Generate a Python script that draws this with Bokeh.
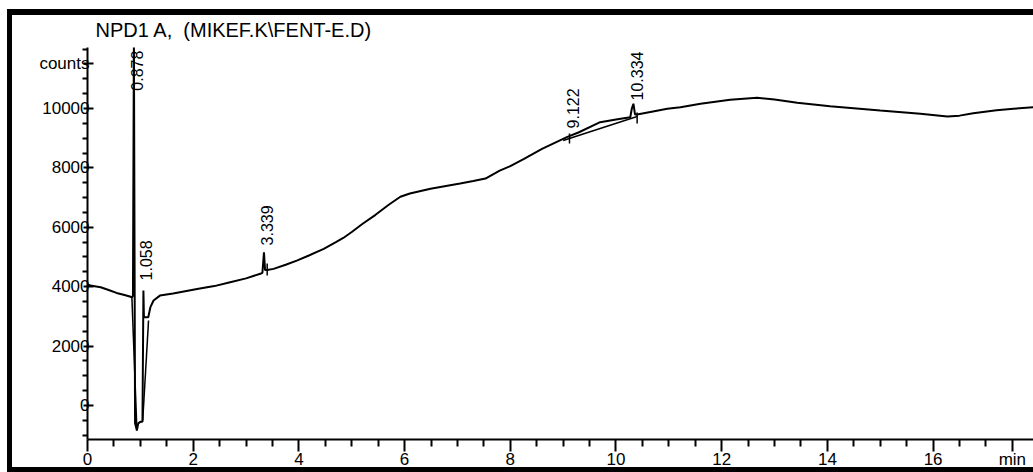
import numpy as np
from bokeh.plotting import figure
from bokeh.models import Range1d, FixedTicker
from bokeh.core.properties import value
from bokeh.embed import file_html
from bokeh.resources import INLINE

# NPD detector signal: retention time (min) vs. counts
time_min = [0.00, 0.05, 0.25, 0.40, 0.55, 0.70, 0.80, 0.84, 0.86, 0.878, 0.90,
            0.935, 0.96, 1.00, 1.04, 1.058, 1.068, 1.15, 1.19, 1.25, 1.37, 1.62,
            2.10, 2.40, 2.70, 3.00, 3.27, 3.31, 3.339, 3.36, 3.40, 3.52, 3.75,
            3.96, 4.20, 4.47, 4.70, 4.84, 5.00, 5.20, 5.45, 5.70, 5.92, 6.10,
            6.49, 7.05, 7.30, 7.53, 7.80, 8.00, 8.26, 8.60, 9.07, 9.30, 9.70,
            10.00, 10.27, 10.30, 10.33, 10.36, 10.40, 10.70, 10.97, 11.22, 11.60,
            12.16, 12.67, 13.00, 13.43, 14.05, 15.00, 15.76, 16.27, 16.50, 16.76,
            17.20, 17.52, 17.90]
counts = [4090, 4040, 3980, 3890, 3790, 3720, 3670, 3640, 3700, 12400, -600,
          -840, -600, -550, -550, 3870, 2970, 2970, 3310, 3535, 3700, 3770,
          3930, 4020, 4150, 4280, 4435, 4470, 5160, 4560, 4560, 4600, 4740,
          4880, 5060, 5275, 5500, 5640, 5840, 6110, 6420, 6760, 7030, 7140,
          7300, 7475, 7560, 7640, 7910, 8060, 8305, 8640, 9034, 9200, 9540,
          9630, 9707, 10000, 10160, 9800, 9800, 9900, 9990, 10044, 10160,
          10293, 10360, 10300, 10192, 10077, 9933, 9822, 9731, 9760, 9842,
          9940, 9990, 10044]

# integration results
peak_rt = [0.878, 1.058, 3.339, 9.122, 10.334]
peak_text = ["0.878", "1.058", "3.339", "9.122", "10.334"]
peak_label_at = [10600, 4210, 5390, 9330, 10270]

# integrator baselines
baseline_t = [[0.84, 0.935], [1.045, 1.155], [9.00, 10.40]]
baseline_v = [[3640, -840], [-500, 2860], [8920, 9730]]

# peak start/end markers
mark_t = [3.40, 9.12, 10.40]
mark_lo = [4380, 8820, 9495]
mark_hi = [4780, 9160, 9865]

# axis ticks and their labels
x_major = [0, 2, 4, 6, 8, 10, 12, 14, 16, 17.5]
x_labels = {17.5: "min"}
x_minor = [0.5, 1, 1.5, 2.5, 3, 3.5, 4.5, 5, 5.5, 6.5, 7, 7.5, 8.5, 9, 9.5,
           10.5, 11, 11.5, 12.5, 13, 13.5, 14.5, 15, 15.5, 16.5, 17]
y_major = [0, 2000, 4000, 6000, 8000, 10000, 11500]
y_labels = {11500: "counts"}
y_minor = [-1000, -500, 500, 1000, 1500, 2500, 3000, 3500, 4500, 5000, 5500,
           6500, 7000, 7500, 8500, 9000, 9500, 10500, 11000, 12000]

FONT = "Liberation Sans"

p = figure(width=1033, height=472,
           x_range=Range1d(0, 17.9), y_range=Range1d(-1145, 12054),
           output_backend="svg", toolbar_location=None,
           min_border_left=87, min_border_right=0,
           min_border_top=47, min_border_bottom=33)
p.background_fill_color = None
p.border_fill_color = None
p.outline_line_color = None
p.grid.visible = False

# heavy page frame around the report
p.styles = {"box-shadow": ("inset 7px 0 0 0 #fff, inset 0 9px 0 0 #fff, "
                           "inset 12px 0 0 0 #000, inset 0 15px 0 0 #000, "
                           "inset 0 -5px 0 0 #000")}

p.title.text = "NPD1 A, \u00a0(MIKEF.K\\FENT-E.D)"
p.title.align = "left"
p.title.offset = 8
p.title.standoff = 14
p.title.text_font = FONT
p.title.text_font_size = "20px"
p.title.text_font_style = "normal"
p.title.text_color = "black"

xa = p.xaxis[0]
xa.ticker = FixedTicker(ticks=x_major, minor_ticks=x_minor)
xa.major_label_overrides = x_labels
xa.axis_line_width = 2
xa.major_tick_line_width = 2
xa.minor_tick_line_width = 2
xa.major_tick_out = 12
xa.major_tick_in = 0
xa.minor_tick_out = 7
xa.minor_tick_in = 0
xa.major_label_standoff = -2
xa.major_label_text_font = FONT
xa.major_label_text_font_size = "17px"
xa.major_label_text_color = "black"

ya = p.yaxis[0]
ya.ticker = FixedTicker(ticks=y_major, minor_ticks=y_minor)
ya.major_label_overrides = y_labels
ya.axis_line_width = 2
ya.major_tick_line_width = 2
ya.minor_tick_line_width = 2
ya.major_tick_out = 4
ya.major_tick_in = 6
ya.minor_tick_out = 5
ya.minor_tick_in = 0
ya.major_label_standoff = -7
ya.major_label_text_font = FONT
ya.major_label_text_font_size = "17px"
ya.major_label_text_color = "black"

# signal trace
p.line(time_min, counts, line_color="black", line_width=2)

# baselines and peak markers
p.multi_line(baseline_t, baseline_v, line_color="black", line_width=1.5)
p.segment(x0=mark_t, y0=mark_lo, x1=mark_t, y1=mark_hi,
          line_color="black", line_width=1.5)

# retention time labels
p.text(x=peak_rt, y=peak_label_at, text=peak_text, angle=np.pi / 2,
       text_align="left", text_baseline="middle", x_offset=3,
       text_font=value(FONT), text_font_size="16px", text_color="black")

open("out.html", "w").write(file_html(p, INLINE))
